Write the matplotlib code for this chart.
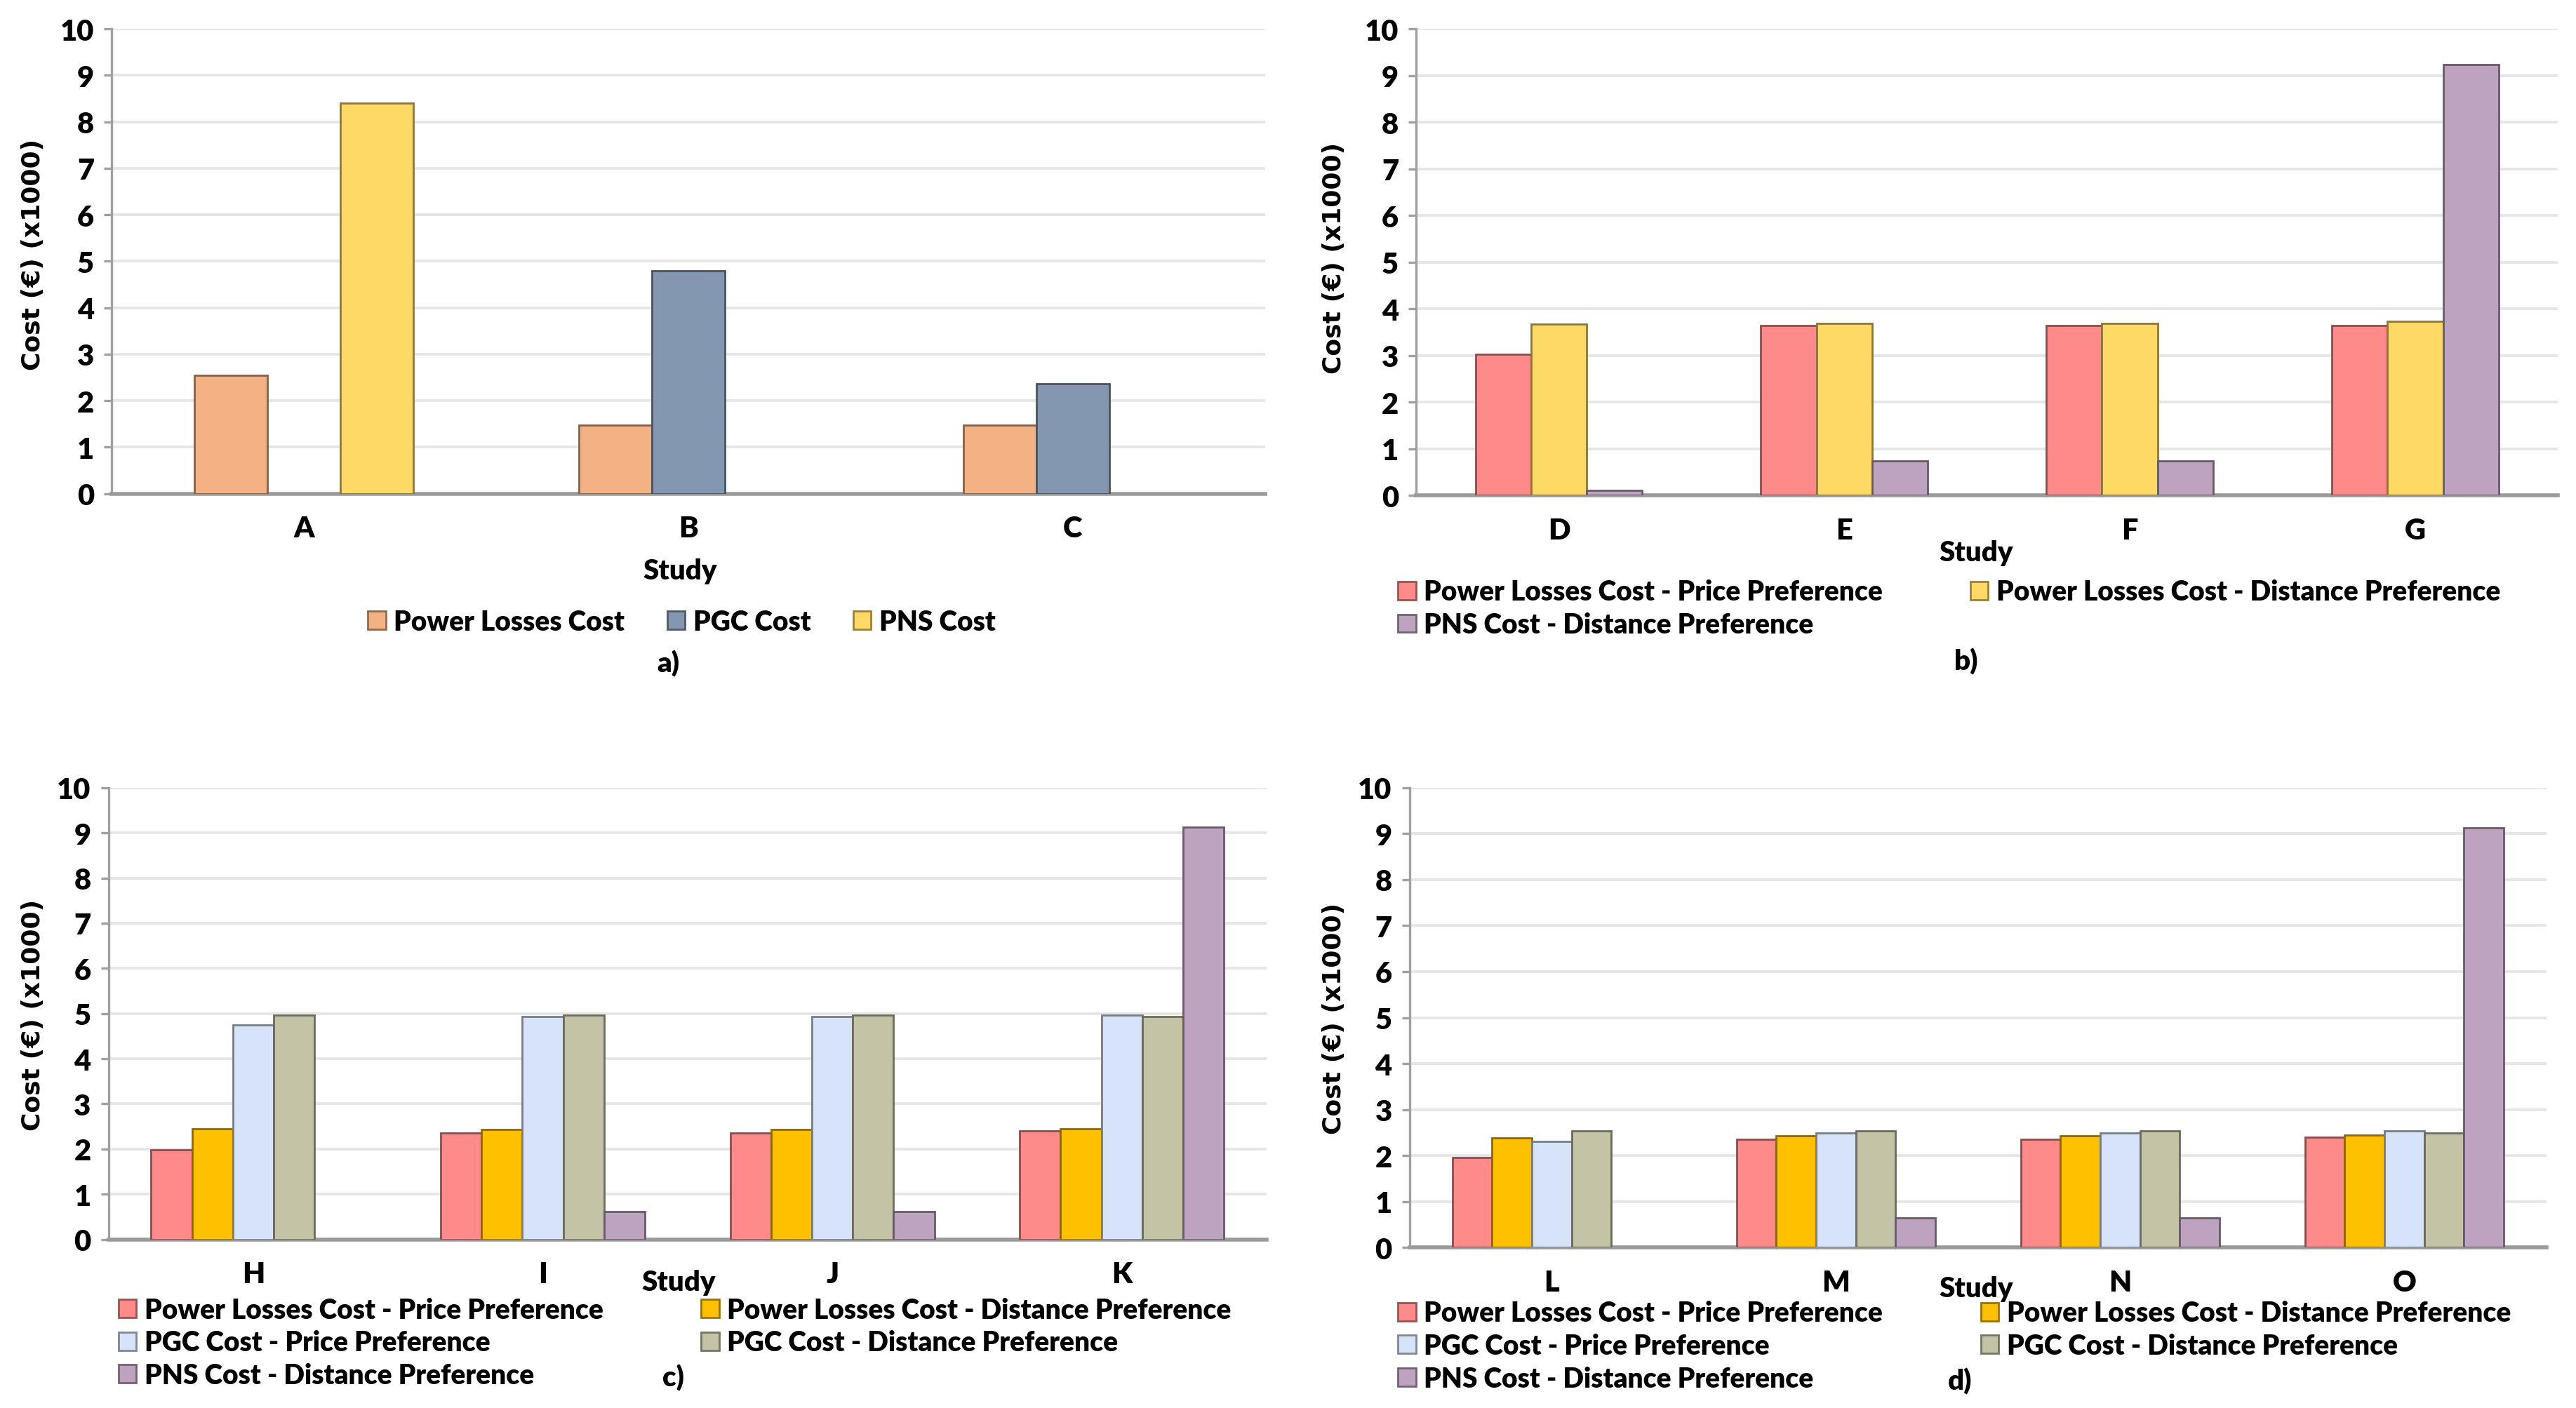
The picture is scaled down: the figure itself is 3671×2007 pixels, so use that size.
import numpy as np
import matplotlib
matplotlib.use("Agg")
import matplotlib.pyplot as plt
from matplotlib.patches import Patch
from matplotlib.colors import to_rgb

plt.rcParams['font.family'] = ['Lato', 'DejaVu Sans']
plt.rcParams['font.weight'] = 'heavy'

# ---- data ----
a_studies = ['A', 'B', 'C']
a_losses = [2.55, 1.48, 1.48]
a_pgc = [np.nan, 4.80, 2.37]
a_pns = [8.40, np.nan, np.nan]

b_studies = ['D', 'E', 'F', 'G']
b_losses_price = [3.03, 3.64, 3.64, 3.64]
b_losses_dist = [3.67, 3.69, 3.69, 3.73]
b_pns_dist = [0.10, 0.74, 0.74, 9.24]

c_studies = ['H', 'I', 'J', 'K']
c_losses_price = [1.98, 2.36, 2.36, 2.40]
c_losses_dist = [2.44, 2.43, 2.43, 2.45]
c_pgc_price = [4.75, 4.93, 4.93, 4.97]
c_pgc_dist = [4.97, 4.97, 4.97, 4.93]
c_pns_dist = [np.nan, 0.62, 0.62, 9.13]

d_studies = ['L', 'M', 'N', 'O']
d_losses_price = [1.96, 2.36, 2.36, 2.40]
d_losses_dist = [2.39, 2.43, 2.43, 2.45]
d_pgc_price = [2.31, 2.49, 2.49, 2.54]
d_pgc_dist = [2.54, 2.54, 2.54, 2.49]
d_pns_dist = [np.nan, 0.64, 0.64, 9.12]

C_ORANGE = '#F4B183'
C_SLATE = '#8497B0'
C_YELLOW = '#FFD966'
C_RED = '#FF8A8A'
C_GOLD = '#FFC000'
C_LBLUE = '#D6E3F8'
C_KHAKI = '#C4C3A6'
C_PURPLE = '#BDA3BF'

W, H = 3671, 2008
DPI = 200
fig = plt.figure(figsize=(W / DPI, H / DPI), dpi=DPI)

OW, OH = 1568.0, 857.7  # overview coordinate frame used for layout


def fx(x):
    return x / OW


def fy(y):
    return 1 - y / OH


def dark(c, f=0.55):
    r, g, b = to_rgb(c)
    return (r * f, g * f, b * f)


def make_axes(x0, x1, ytop, ybot):
    ax = fig.add_axes([fx(x0), fy(ybot), fx(x1) - fx(x0), fy(ytop) - fy(ybot)])
    ax.set_ylim(0, 10)
    ax.set_yticks(range(0, 11))
    ax.grid(axis='y', color='#E6E6E6', linewidth=1.4, zorder=0)
    ax.set_axisbelow(True)
    for s in ['top', 'right']:
        ax.spines[s].set_visible(False)
    ax.spines['left'].set_color('#A0A0A0')
    ax.spines['left'].set_linewidth(1.2)
    ax.spines['bottom'].set_color('#9A9A9A')
    ax.spines['bottom'].set_linewidth(2.0)
    ax.tick_params(axis='y', length=4, width=1.2, color='#A0A0A0', pad=5, labelsize=15)
    ax.tick_params(axis='x', length=0, pad=11, labelsize=15)
    return ax


def draw_bars(ax, studies, series, colors, width):
    x = np.arange(len(studies))
    n = len(series)
    for i, (vals, col) in enumerate(zip(series, colors)):
        off = (i - (n - 1) / 2) * width
        ax.bar(x + off, vals, width, color=col, edgecolor=dark(col), linewidth=1.0, zorder=3)
    ax.set_xticks(x)
    ax.set_xticklabels(studies)
    ax.set_xlim(-0.5, len(studies) - 0.5)


def legend(ax, labels, colors, anchor, ncol, colsp):
    handles = [Patch(facecolor=c, edgecolor=dark(c, 0.6), linewidth=1.0) for c in colors]
    if ncol == 2:
        idx = list(range(0, len(labels), 2)) + list(range(1, len(labels), 2))
        handles = [handles[i] for i in idx]
        labels = [labels[i] for i in idx]
    ax.legend(handles, labels, loc='upper left', bbox_to_anchor=anchor,
              bbox_transform=fig.transFigure, ncol=ncol, frameon=False,
              fontsize=14, handlelength=0.65, handleheight=0.65, handletextpad=0.3,
              columnspacing=colsp, labelspacing=0.25, borderpad=0, borderaxespad=0)


ylab = 'Cost (€) (x1000)'

# ---- panel a ----
ax = make_axes(68, 770, 18, 301)
draw_bars(ax, a_studies, [a_losses, a_pgc, a_pns], [C_ORANGE, C_SLATE, C_YELLOW], 0.19)
legend(ax, ['Power Losses Cost', 'PGC Cost', 'PNS Cost'], [C_ORANGE, C_SLATE, C_YELLOW],
       (fx(224), fy(371)), 3, 1.55)
fig.text(fx(414), fy(348), 'Study', ha='center', va='center', fontsize=14.5)
fig.text(fx(407), fy(404), 'a)', ha='center', va='center', fontsize=14.5)
fig.text(fx(20), fy(155), ylab, rotation=90, ha='center', va='center', fontsize=13,
         family='DejaVu Sans', weight='bold')

# ---- panel b ----
ax = make_axes(862, 1557, 18, 302)
b_labels = ['Power Losses Cost - Price Preference', 'Power Losses Cost - Distance Preference',
            'PNS Cost - Distance Preference']
b_colors = [C_RED, C_YELLOW, C_PURPLE]
draw_bars(ax, b_studies, [b_losses_price, b_losses_dist, b_pns_dist], b_colors, 0.195)
legend(ax, b_labels, b_colors, (fx(851), fy(353)), 2, 3.2)
fig.text(fx(1203), fy(337), 'Study', ha='center', va='center', fontsize=14.5)
fig.text(fx(1197), fy(403), 'b)', ha='center', va='center', fontsize=14.5)
fig.text(fx(812), fy(157), ylab, rotation=90, ha='center', va='center', fontsize=13,
         family='DejaVu Sans', weight='bold')

five_labels = ['Power Losses Cost - Price Preference', 'Power Losses Cost - Distance Preference',
               'PGC Cost - Price Preference', 'PGC Cost - Distance Preference',
               'PNS Cost - Distance Preference']
five_colors = [C_RED, C_GOLD, C_LBLUE, C_KHAKI, C_PURPLE]

# ---- panel c ----
ax = make_axes(66, 771, 480, 755)
draw_bars(ax, c_studies, [c_losses_price, c_losses_dist, c_pgc_price, c_pgc_dist, c_pns_dist],
          five_colors, 0.141)
legend(ax, five_labels, five_colors, (fx(72), fy(790)), 2, 3.6)
fig.text(fx(413), fy(781), 'Study', ha='center', va='center', fontsize=14.5)
fig.text(fx(410), fy(839), 'c)', ha='center', va='center', fontsize=14.5)
fig.text(fx(20), fy(618), ylab, rotation=90, ha='center', va='center', fontsize=13,
         family='DejaVu Sans', weight='bold')

# ---- panel d ----
ax = make_axes(858, 1550, 480, 760)
draw_bars(ax, d_studies, [d_losses_price, d_losses_dist, d_pgc_price, d_pgc_dist, d_pns_dist],
          five_colors, 0.14)
legend(ax, five_labels, five_colors, (fx(851), fy(792)), 2, 3.6)
fig.text(fx(1203), fy(785), 'Study', ha='center', va='center', fontsize=14.5)
fig.text(fx(1193), fy(841), 'd)', ha='center', va='center', fontsize=14.5)
fig.text(fx(812), fy(620), ylab, rotation=90, ha='center', va='center', fontsize=13,
         family='DejaVu Sans', weight='bold')

fig.savefig('out.png', dpi=DPI, facecolor='white')
